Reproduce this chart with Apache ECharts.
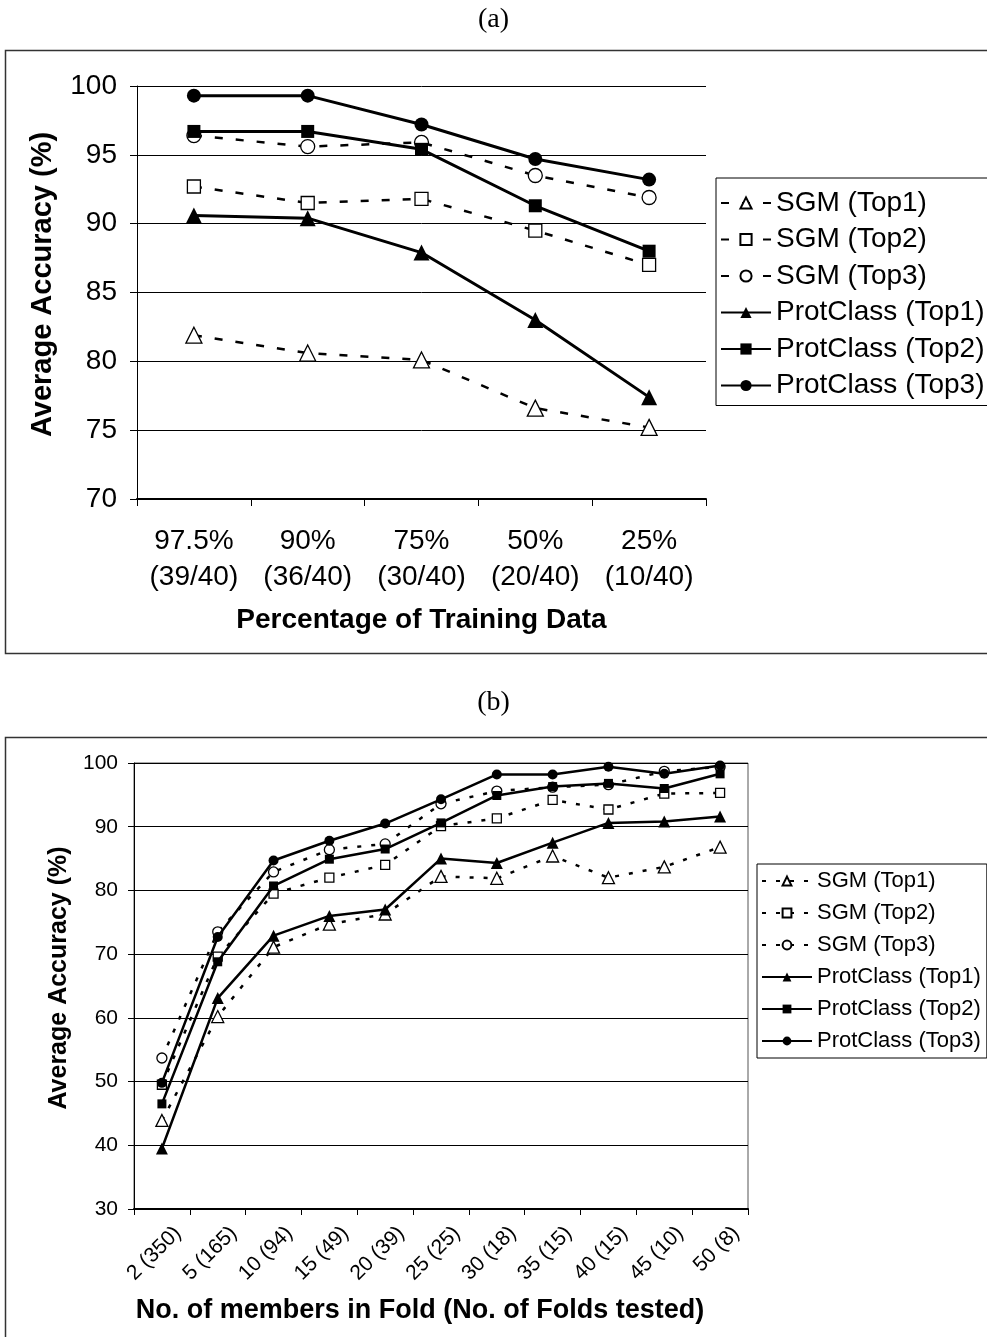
<!DOCTYPE html>
<html>
<head>
<meta charset="utf-8">
<script src="https://cdn.jsdelivr.net/npm/echarts@6/dist/echarts.min.js"></script>
<style>
html,body{margin:0;padding:0;background:#fff;}
.c{position:absolute;left:0;top:0;width:987px;height:1337px;}
</style>
</head>
<body>
<div id="ca" class="c"></div>
<div id="cb" class="c"></div>
<script>
// ---------- Chart (a) data ----------
var catsA = ['97.5%\n(39/40)', '90%\n(36/40)', '75%\n(30/40)', '50%\n(20/40)', '25%\n(10/40)'];
var sgmTop1A = [81.9, 80.6, 80.1, 76.6, 75.2];
var sgmTop2A = [92.7, 91.5, 91.8, 89.5, 87.0];
var sgmTop3A = [96.4, 95.6, 95.9, 93.5, 91.9];
var protTop1A = [90.6, 90.4, 87.9, 83.0, 77.4];
var protTop2A = [96.7, 96.7, 95.4, 91.3, 88.0];
var protTop3A = [99.3, 99.3, 97.2, 94.7, 93.2];
var yTicksA = {min: 70, max: 100, interval: 5};

// ---------- Chart (b) data ----------
var catsB = ['2 (350)', '5 (165)', '10 (94)', '15 (49)', '20 (39)', '25 (25)', '30 (18)', '35 (15)', '40 (15)', '45 (10)', '50 (8)'];
var sgmTop1B = [43.9, 60.2, 71.1, 74.7, 76.3, 82.2, 81.9, 85.4, 82.0, 83.7, 86.8];
var sgmTop2B = [49.5, 69.6, 79.5, 82.0, 84.0, 90.1, 91.3, 94.2, 92.7, 95.2, 95.3];
var sgmTop3B = [53.7, 73.5, 82.9, 86.4, 87.3, 93.6, 95.6, 96.2, 96.6, 98.7, 99.4];
var protTop1B = [39.5, 63.1, 72.9, 76.0, 77.0, 85.0, 84.3, 87.5, 90.6, 90.8, 91.6];
var protTop2B = [46.5, 68.8, 80.7, 84.9, 86.5, 90.6, 94.9, 96.3, 96.8, 96.0, 98.3];
var protTop3B = [49.8, 72.7, 84.7, 87.8, 90.5, 94.3, 98.2, 98.2, 99.4, 98.3, 99.6];
var yTicksB = {min: 30, max: 100, interval: 10};

var names = ['SGM (Top1)', 'SGM (Top2)', 'SGM (Top3)', 'ProtClass (Top1)', 'ProtClass (Top2)', 'ProtClass (Top3)'];
var symbols = ['triangle', 'rect', 'circle', 'triangle', 'rect', 'circle'];
var FONT = '"Liberation Sans", Arial, sans-serif';

function mkSeries(dataArr, cfg) {
  return dataArr.map(function (d, i) {
    var open = i < 3;
    var sym = symbols[i];
    var size = sym === 'triangle' ? cfg.sym + 2 : (sym === 'rect' ? cfg.sym - 1 : cfg.sym);
    return {
      name: names[i],
      type: 'line',
      data: d,
      symbol: sym,
      symbolSize: size,
      showAllSymbol: true,
      z: open ? 2 : 3,
      lineStyle: {
        color: '#000',
        width: open ? cfg.dashW : cfg.solidW,
        type: open ? cfg.dash : 'solid'
      },
      itemStyle: {
        color: open ? '#fff' : '#000',
        borderColor: '#000',
        borderWidth: open ? 1.3 : 0
      },
      emphasis: {disabled: true},
      animation: false
    };
  });
}

// ---------- Chart A ----------
var chartA = echarts.init(document.getElementById('ca'), null, {renderer: 'canvas'});
chartA.setOption({
  animation: false,
  backgroundColor: 'transparent',
  graphic: [
    {type: 'text', left: 'center', top: 6, style: {text: '(a)', font: '28px "Liberation Serif", "Times New Roman", serif', fill: '#000'}},
    {type: 'rect', shape: {x: 5.5, y: 50.5, width: 1000, height: 603}, style: {fill: 'none', stroke: '#333', lineWidth: 1.5}, silent: true}
  ],
  grid: {left: 137, top: 86, width: 569, height: 413, show: false},
  xAxis: {
    type: 'category',
    data: catsA,
    boundaryGap: true,
    axisLine: {show: true, lineStyle: {color: '#000', width: 2}},
    axisTick: {show: true, length: 7, alignWithLabel: false, lineStyle: {color: '#000'}},
    axisLabel: {color: '#000', fontFamily: FONT, fontSize: 28, lineHeight: 36, margin: 24, interval: 0},
    name: 'Percentage of Training Data',
    nameLocation: 'middle',
    nameGap: 107,
    nameTextStyle: {color: '#000', fontFamily: FONT, fontSize: 28, fontWeight: 'bold'}
  },
  yAxis: {
    type: 'value',
    min: yTicksA.min, max: yTicksA.max, interval: yTicksA.interval,
    axisLine: {show: true, lineStyle: {color: '#000', width: 1}},
    axisTick: {show: true, length: 7, lineStyle: {color: '#000'}},
    axisLabel: {color: '#000', fontFamily: FONT, fontSize: 28, margin: 20},
    splitLine: {show: true, lineStyle: {color: '#000', width: 1}},
    name: 'Average Accuracy (%)',
    nameLocation: 'middle',
    nameRotate: 90,
    nameGap: 80,
    nameTextStyle: {color: '#000', fontFamily: FONT, fontSize: 29, fontWeight: 'bold', padding: [0, 0, 0, 16]}
  },
  legend: {
    orient: 'vertical',
    left: 716, top: 178,
    data: names,
    backgroundColor: '#fff',
    borderColor: '#000', borderWidth: 1,
    padding: [11, 6, 6, 4],
    itemWidth: 50, itemHeight: 14, itemGap: 8.5,
    textStyle: {color: '#000', fontFamily: FONT, fontSize: 28},
    selectedMode: false
  },
  series: mkSeries([sgmTop1A, sgmTop2A, sgmTop3A, protTop1A, protTop2A, protTop3A], {sym: 14, dashW: 2.5, solidW: 3, dash: [8, 13]})
});

// ---------- Chart B ----------
var chartB = echarts.init(document.getElementById('cb'), null, {renderer: 'canvas'});
chartB.setOption({
  animation: false,
  backgroundColor: 'transparent',
  graphic: [
    {type: 'text', left: 'center', top: 689, style: {text: '(b)', font: '28px "Liberation Serif", "Times New Roman", serif', fill: '#000'}},
    {type: 'rect', shape: {x: 5.5, y: 737.5, width: 1000, height: 700}, style: {fill: 'none', stroke: '#333', lineWidth: 1.5}, silent: true}
  ],
  grid: {left: 134, top: 763, width: 614, height: 446, show: true, borderColor: '#555', borderWidth: 1, backgroundColor: 'transparent'},
  xAxis: {
    type: 'category',
    data: catsB,
    boundaryGap: true,
    axisLine: {show: true, lineStyle: {color: '#000', width: 2}},
    axisTick: {show: true, length: 6, alignWithLabel: false, lineStyle: {color: '#000'}},
    axisLabel: {color: '#000', fontFamily: FONT, fontSize: 21, rotate: 45, margin: 5, interval: 0,
                align: 'right', verticalAlign: 'top', padding: [12, 0, 0, 0]},
    name: 'No. of members in Fold (No. of Folds tested)',
    nameLocation: 'middle',
    nameGap: 88,
    nameTextStyle: {color: '#000', fontFamily: FONT, fontSize: 27, fontWeight: 'bold', padding: [0, 42, 0, 0]}
  },
  yAxis: {
    type: 'value',
    min: yTicksB.min, max: yTicksB.max, interval: yTicksB.interval,
    axisLine: {show: true, lineStyle: {color: '#000', width: 1}},
    axisTick: {show: true, length: 6, lineStyle: {color: '#000'}},
    axisLabel: {color: '#000', fontFamily: FONT, fontSize: 21, margin: 16},
    splitLine: {show: true, lineStyle: {color: '#000', width: 1}},
    name: 'Average Accuracy (%)',
    nameLocation: 'middle',
    nameRotate: 90,
    nameGap: 60,
    nameTextStyle: {color: '#000', fontFamily: FONT, fontSize: 25, fontWeight: 'bold', padding: [0, 0, 0, 16]}
  },
  legend: {
    orient: 'vertical',
    left: 757, top: 864,
    data: names,
    backgroundColor: '#fff',
    borderColor: '#000', borderWidth: 1,
    padding: [6, 6, 6, 4],
    itemWidth: 50, itemHeight: 11, itemGap: 10,
    textStyle: {color: '#000', fontFamily: FONT, fontSize: 22},
    selectedMode: false
  },
  series: mkSeries([sgmTop1B, sgmTop2B, sgmTop3B, protTop1B, protTop2B, protTop3B], {sym: 10, dashW: 2.5, solidW: 2.5, dash: [4, 10]})
});
</script>
</body>
</html>
